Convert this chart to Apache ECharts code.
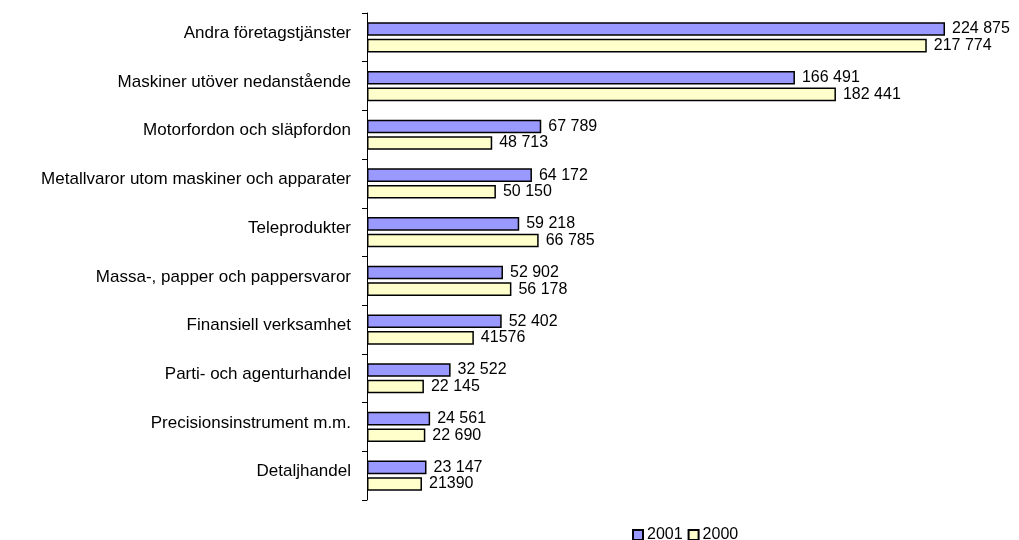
<!DOCTYPE html>
<html>
<head>
<meta charset="utf-8">
<script src="https://cdn.jsdelivr.net/npm/echarts@6/dist/echarts.min.js"></script>
<style>
html,body{margin:0;padding:0;background:#fff;}
#chart{width:1019px;height:540px;}
</style>
</head>
<body>
<div id="chart"></div>
<script>
const categories = [
  "Andra företagstjänster",
  "Maskiner utöver nedanstående",
  "Motorfordon och släpfordon",
  "Metallvaror utom maskiner och apparater",
  "Teleprodukter",
  "Massa-, papper och pappersvaror",
  "Finansiell verksamhet",
  "Parti- och agenturhandel",
  "Precisionsinstrument m.m.",
  "Detaljhandel"
];
const values2001 = [224875, 166491, 67789, 64172, 59218, 52902, 52402, 32522, 24561, 23147];
const values2000 = [217774, 182441, 48713, 50150, 66785, 56178, 41576, 22145, 22690, 21390];
const labels2001 = ["224 875", "166 491", "67 789", "64 172", "59 218", "52 902", "52 402", "32 522", "24 561", "23 147"];
const labels2000 = ["217 774", "182 441", "48 713", "50 150", "66 785", "56 178", "41576", "22 145", "22 690", "21390"];
const seriesNames = ["2001", "2000"];

const chart = echarts.init(document.getElementById('chart'));
const font = 'Liberation Sans, Arial, sans-serif';
chart.setOption({
  animation: false,
  backgroundColor: '#ffffff',
  textStyle: { fontFamily: font },
  grid: { left: 367, right: 9.4, top: 13, bottom: 40, containLabel: false },
  legend: {
    data: seriesNames,
    icon: 'rect',
    left: 627, top: 522,
    itemWidth: 10, itemHeight: 10, itemGap: 5,
    textStyle: { fontFamily: font, fontSize: 16, color: '#000', padding: [0,0,0,-1] }
  },
  xAxis: {
    type: 'value', min: 0, max: 250000,
    show: false
  },
  yAxis: {
    type: 'category', data: categories, inverse: true,
    axisLine: { show: true, lineStyle: { color: '#000', width: 1 } },
    axisTick: { show: true, length: 5, lineStyle: { color: '#000' } },
    axisLabel: { fontFamily: font, fontSize: 17, color: '#000', margin: 16, verticalAlign: 'bottom', lineHeight: 8 }
  },
  series: [
    {
      name: seriesNames[0], type: 'bar', data: values2001,
      barCategoryGap: '38%', barGap: '22%',
      itemStyle: { color: '#9999FF', borderColor: '#000', borderWidth: 1.5 },
      label: { show: true, position: 'right', distance: 7, fontFamily: font, fontSize: 16, color: '#000',
        formatter: p => labels2001[p.dataIndex] }
    },
    {
      name: seriesNames[1], type: 'bar', data: values2000,
      barCategoryGap: '38%', barGap: '22%',
      itemStyle: { color: '#FFFFCC', borderColor: '#000', borderWidth: 1.5 },
      label: { show: true, position: 'right', distance: 7, fontFamily: font, fontSize: 16, color: '#000',
        formatter: p => labels2000[p.dataIndex] }
    }
  ]
});
</script>
</body>
</html>
